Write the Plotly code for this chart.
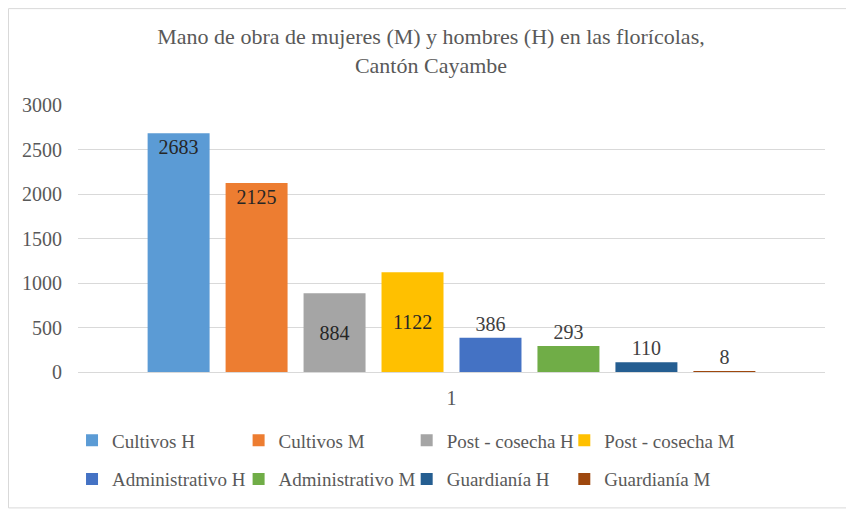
import plotly.graph_objects as go

categories = ["1"]
series_names = ["Cultivos H", "Cultivos M", "Post - cosecha H", "Post - cosecha M",
                "Administrativo H", "Administrativo M", "Guardianía H", "Guardianía M"]
series_values = [2683, 2125, 884, 1122, 386, 293, 110, 8]
y_ticks = [0, 500, 1000, 1500, 2000, 2500, 3000]

colors = ["#5B9BD5", "#ED7D31", "#A5A5A5", "#FFC000",
          "#4472C4", "#70AD47", "#255E91", "#9E480E"]
# where the value label sits for each bar
label_pos = ["inside", "inside", "inside", "inside", "outside", "outside", "outside", "outside"]
label_anchor = ["end", "end", "middle", "middle", "end", "end", "end", "end"]

SERIF = "Liberation Serif"
GREY = "#595959"

# legend is laid out as 4 columns of 2 rows (one legend per column)
legend_ids = ["legend", "legend2", "legend3", "legend4"]
column_x = [-0.008, 0.215, 0.440, 0.651]

fig = go.Figure()
for i, (name, val) in enumerate(zip(series_names, series_values)):
    fig.add_trace(go.Bar(
        x=categories, y=[val], name=name,
        marker=dict(color=colors[i], line=dict(width=0)),
        text=[str(val)], textposition=label_pos[i],
        insidetextanchor=label_anchor[i],
        textfont=dict(family=SERIF, size=20, color="#262626"),
        outsidetextfont=dict(family=SERIF, size=20, color="#404040"),
        cliponaxis=False,
        legend=legend_ids[i % 4], legendgroup=name,
    ))

legends = {}
for lid, lx in zip(legend_ids, column_x):
    legends[lid] = dict(
        orientation="v", xanchor="left", x=lx, yanchor="top", y=-0.185,
        font=dict(family=SERIF, size=19, color=GREY),
        itemwidth=30, tracegroupgap=11, bgcolor="rgba(0,0,0,0)",
    )

# page body adds an 8px offset, so the figure is drawn 8px smaller
fig.update_layout(
    width=846, height=506,
    paper_bgcolor="white", plot_bgcolor="white",
    margin=dict(l=70, r=29, t=97, b=142, autoexpand=False),
    title=dict(
        text="Mano de obra de mujeres (M) y hombres (H) en las florícolas,<br>Cantón Cayambe",
        x=0.5, xanchor="center", y=0.928, yanchor="middle",
        font=dict(family=SERIF, size=22, color=GREY),
    ),
    barmode="group", bargap=0.165, bargroupgap=0.205,
    showlegend=True,
    xaxis=dict(
        showgrid=False, showline=False, ticks="",
        tickfont=dict(family=SERIF, size=20, color=GREY),
        ticklabelstandoff=12,
    ),
    yaxis=dict(
        range=[0, 3000], tickvals=y_ticks,
        showgrid=True, gridcolor="#D9D9D9", gridwidth=1,
        zeroline=True, zerolinecolor="#D9D9D9", zerolinewidth=1,
        showline=False, ticks="",
        tickfont=dict(family=SERIF, size=20, color=GREY),
        ticklabelstandoff=15,
    ),
    shapes=[dict(type="rect", xref="paper", yref="paper",
                 x0=-0.093, x1=1.036, y0=-0.509, y1=1.361,
                 line=dict(color="#D9D9D9", width=1), fillcolor="rgba(0,0,0,0)",
                 layer="below")],
    **legends,
)

fig.write_html("out.html")
